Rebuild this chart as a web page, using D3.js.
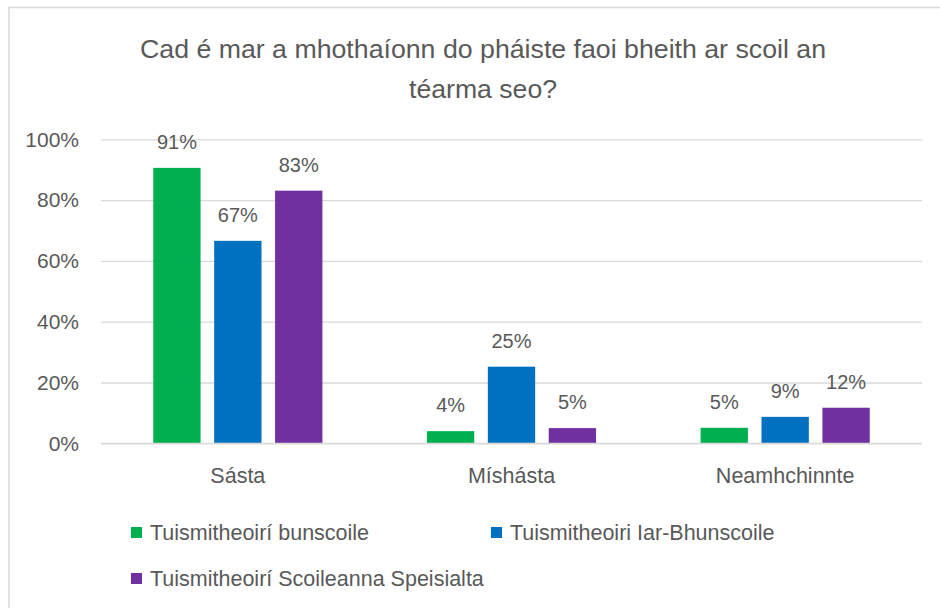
<!DOCTYPE html>
<html>
<head>
<meta charset="utf-8">
<script src="https://cdn.jsdelivr.net/npm/d3@7"></script>
<style>
  html, body { margin: 0; padding: 0; background: #fff; }
  svg { display: block; }
  text { font-family: "Liberation Sans", "DejaVu Sans", sans-serif; fill: #595959; }
</style>
</head>
<body>
<svg id="chart" width="940" height="608"></svg>
<script>
const titleLines = ["Cad é  mar a mhothaíonn do pháiste faoi bheith ar scoil an", "téarma seo?"];
const categories = ["Sásta", "Míshásta", "Neamhchinnte"];
const seriesNames = ["Tuismitheoirí bunscoile", "Tuismitheoiri Iar-Bhunscoile", "Tuismitheoirí Scoileanna Speisialta"];
const seriesColors = ["#00b050", "#0070c0", "#7030a0"];
const bunscoile = [0.906, 0.040, 0.051];
const iarBhunscoile = [0.666, 0.252, 0.087];
const speisialta = [0.831, 0.050, 0.117];
const yTicks = [0, 0.2, 0.4, 0.6, 0.8, 1.0];

const seriesValues = [bunscoile, iarBhunscoile, speisialta];

const svg = d3.select("#chart");

// outer chart border
svg.append("path")
  .attr("d", "M9,608 V7.5 H940")
  .attr("fill", "none")
  .attr("stroke", "#d9d9d9")
  .attr("stroke-width", 1.5);

// title
const title = svg.append("g");
title.append("text")
  .attr("x", 483).attr("y", 58)
  .attr("text-anchor", "middle")
  .attr("font-size", 26)
  .attr("textLength", 686)
  .attr("lengthAdjust", "spacingAndGlyphs")
  .text(titleLines[0]);
title.append("text")
  .attr("x", 483).attr("y", 98)
  .attr("text-anchor", "middle")
  .attr("font-size", 26)
  .attr("textLength", 148)
  .attr("lengthAdjust", "spacingAndGlyphs")
  .text(titleLines[1]);

const plot = { left: 101, right: 922, top: 139.3, bottom: 443.3 };

const y = d3.scaleLinear().domain([0, 1]).range([plot.bottom, plot.top]);
const x0 = d3.scaleBand().domain(categories).range([plot.left, plot.right]);
const bw = x0.bandwidth();
const x1 = d3.scaleBand().domain(d3.range(seriesNames.length))
  .range([bw * 0.191, bw * 0.809]).paddingInner(0.223).paddingOuter(0);

// gridlines + y tick labels
const yAxis = d3.axisLeft(y).tickValues(yTicks).tickFormat(d3.format(".0%"))
  .tickSize(-(plot.right - plot.left)).tickPadding(22);
const gy = svg.append("g").attr("transform", `translate(${plot.left},0)`).call(yAxis);
gy.select(".domain").remove();
gy.selectAll(".tick line").attr("stroke", "#d9d9d9").attr("stroke-width", 1.3);
gy.selectAll(".tick text")
  .attr("font-size", 21)
  .attr("fill", "#595959")
  .attr("font-family", "Liberation Sans, sans-serif");

// bars
const rows = [];
categories.forEach((c, ci) => {
  seriesValues.forEach((vals, si) => rows.push({ c, si, v: vals[ci] }));
});

const gb = svg.append("g");
gb.selectAll("rect").data(rows).enter().append("rect")
  .attr("x", d => x0(d.c) + x1(d.si))
  .attr("width", x1.bandwidth())
  .attr("y", d => y(d.v))
  .attr("height", d => y(0) - y(d.v))
  .attr("fill", d => seriesColors[d.si]);

gb.selectAll("text").data(rows).enter().append("text")
  .attr("x", d => x0(d.c) + x1(d.si) + x1.bandwidth() / 2)
  .attr("y", d => y(d.v) - 19)
  .attr("text-anchor", "middle")
  .attr("font-size", 20)
  .text(d => d3.format(".0%")(d.v));

// x axis line
svg.append("line")
  .attr("x1", plot.left).attr("x2", plot.right)
  .attr("y1", y(0)).attr("y2", y(0))
  .attr("stroke", "#d9d9d9").attr("stroke-width", 1.3);

// category labels
const xAxis = d3.axisBottom(x0).tickSize(0).tickPadding(0);
const gx = svg.append("g").attr("transform", `translate(0,${plot.bottom})`).call(xAxis);
gx.select(".domain").remove();
gx.selectAll(".tick text")
  .attr("dy", null)
  .attr("y", 40)
  .attr("font-size", 21.5)
  .attr("fill", "#595959")
  .attr("font-family", "Liberation Sans, sans-serif");

// legend
const legendPos = [[131, 527], [491, 527], [131, 573]];
const lg = svg.append("g");
seriesNames.forEach((name, i) => {
  const [lx, ly] = legendPos[i];
  lg.append("rect").attr("x", lx).attr("y", ly).attr("width", 11).attr("height", 11)
    .attr("fill", seriesColors[i]);
  lg.append("text").attr("x", lx + 19).attr("y", ly + 13)
    .attr("font-size", 21.5).text(name);
});
</script>
</body>
</html>
